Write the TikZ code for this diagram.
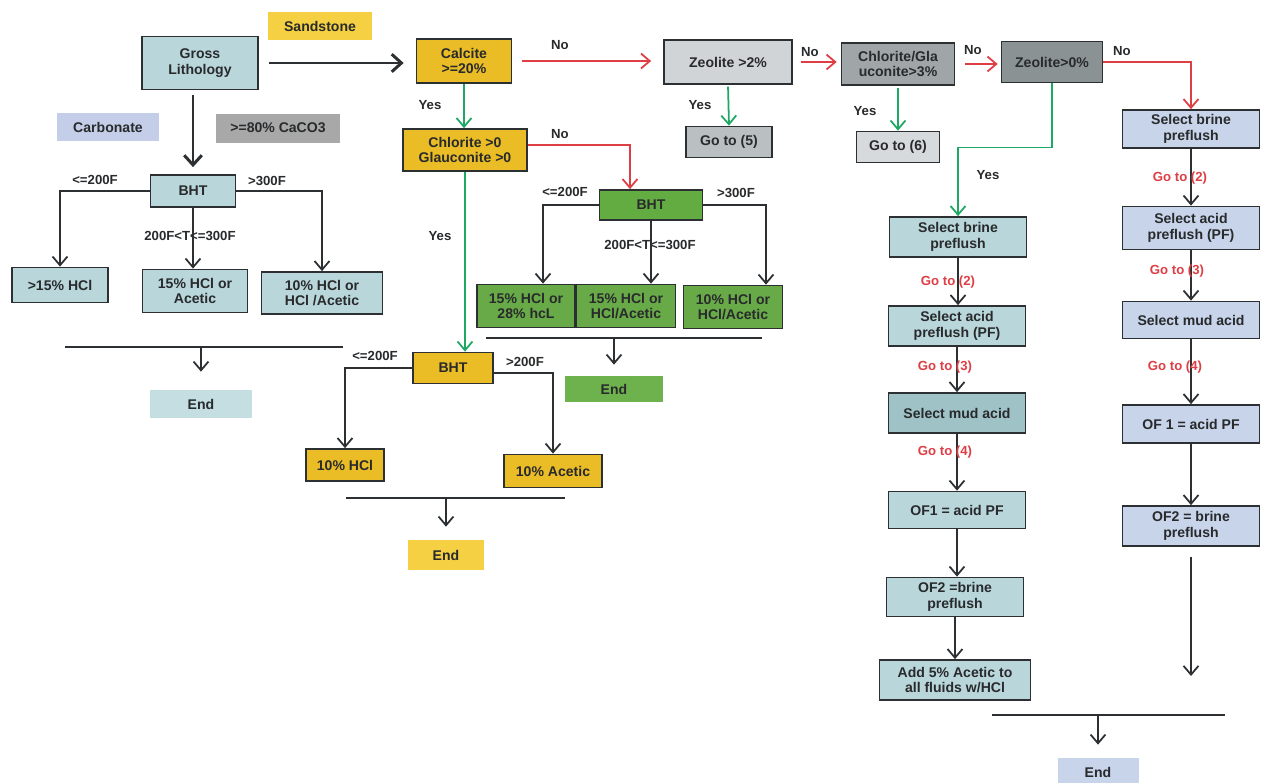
\documentclass[tikz,border=0pt]{standalone}
\usepackage{fontspec}
\setmainfont{Liberation Sans}
\usetikzlibrary{arrows.meta}

\definecolor{inkgrey}{RGB}{45,48,50}
\definecolor{inktext}{RGB}{40,42,44}
\definecolor{tealbox}{RGB}{185,214,218}
\definecolor{tealdark}{RGB}{158,194,198}
\definecolor{tealend}{RGB}{196,222,226}
\definecolor{sandyel}{RGB}{244,208,66}
\definecolor{calcyel}{RGB}{234,188,38}
\definecolor{bhtgrn}{RGB}{98,172,66}
\definecolor{boxgrn}{RGB}{104,170,72}
\definecolor{endgrn}{RGB}{110,178,78}
\definecolor{greyA}{RGB}{208,212,214}
\definecolor{greyB}{RGB}{186,192,194}
\definecolor{greyC}{RGB}{160,166,168}
\definecolor{greyD}{RGB}{138,146,148}
\definecolor{greyE}{RGB}{214,218,220}
\definecolor{lavbox}{RGB}{200,212,234}
\definecolor{carblab}{RGB}{196,206,232}
\definecolor{cacolab}{RGB}{168,168,168}
\definecolor{noRed}{RGB}{222,62,68}
\definecolor{yesGrn}{RGB}{30,168,100}

\newcommand\flowfont{\fontsize{8}{8.8}\selectfont\bfseries}
\newcommand\lblfont{\fontsize{7.5}{8.5}\selectfont\bfseries}

\tikzset{
  box/.style={draw=inkgrey, line width=1pt, align=center, inner sep=1pt, text=inktext, font=\flowfont},
  tag/.style={align=center, inner sep=1pt, text=inktext, font=\flowfont},
  lbl/.style={inner sep=1pt, text=inktext, font=\lblfont},
  golbl/.style={inner sep=1pt, text=noRed, font=\lblfont},
  arr/.style={draw=inkgrey, line width=1pt, -{Straight Barb[length=5pt,width=8.5pt]}},
  bigarr/.style={draw=inkgrey, line width=1.7pt, -{Straight Barb[length=5.5pt,width=10pt]}},
  noarr/.style={arr, draw=noRed},
  yesarr/.style={arr, draw=yesGrn},
  bar/.style={draw=inkgrey, line width=1.1pt},
}

\begin{document}
\begin{tikzpicture}[x=0.02cm, y=-0.02cm]
  \useasboundingbox (0,0) rectangle (1262,782);
  \fill[white] (0,0) rectangle (1262,782);

  % carbonate branch
  \node[box, fill=tealbox, minimum width=2.32cm, minimum height=1.06cm] (gross) at (200,63) {Gross\\Lithology};
  \node[tag, fill=sandyel, minimum width=2.1cm, minimum height=0.56cm] (sand) at (320,26) {Sandstone};
  \node[tag, fill=carblab, minimum width=2.06cm, minimum height=0.56cm] (carb) at (108,127) {Carbonate};
  \node[tag, fill=cacolab, minimum width=2.5cm, minimum height=0.58cm] (caco) at (278,128) {>=80\% CaCO3};
  \node[box, fill=tealbox, minimum width=1.7cm, minimum height=0.64cm] (bhtL) at (193,191) {BHT};
  \node[box, fill=tealbox, minimum width=1.92cm, minimum height=0.7cm] (hclA) at (60,285) {>15\% HCl};
  \node[box, fill=tealbox, minimum width=2.1cm, minimum height=0.86cm] (hclB) at (195,291) {15\% HCl or\\Acetic};
  \node[box, fill=tealbox, minimum width=2.42cm, minimum height=0.84cm] (hclC) at (322,293) {10\% HCl or\\HCl /Acetic};
  \node[tag, fill=tealend, minimum width=2.04cm, minimum height=0.56cm] (endL) at (201,404) {End};

  \node[lbl] (lt1) at (95,180) {<=200F};
  \node[lbl] (gt1) at (267,181) {>300F};
  \node[lbl] (md1) at (190,236) {200F<T<=300F};

  % sandstone: calcite checks
  \node[box, fill=calcyel, minimum width=1.9cm, minimum height=0.88cm] (calc) at (464,61) {Calcite\\>=20\%};
  \node[box, fill=calcyel, minimum width=2.48cm, minimum height=0.84cm] (chl) at (465,150) {Chlorite >0\\Glauconite >0};
  \node[box, fill=bhtgrn, minimum width=2.06cm, minimum height=0.6cm] (bhtG) at (651,205) {BHT};
  \node[box, fill=boxgrn, minimum width=1.96cm, minimum height=0.86cm] (grnA) at (526,306) {15\% HCl or\\28\% hcL};
  \node[box, fill=boxgrn, minimum width=1.98cm, minimum height=0.86cm] (grnB) at (626,306) {15\% HCl or\\HCl/Acetic};
  \node[box, fill=boxgrn, minimum width=1.98cm, minimum height=0.86cm] (grnC) at (733,307) {10\% HCl or\\HCl/Acetic};
  \node[tag, fill=endgrn, minimum width=1.96cm, minimum height=0.52cm] (endG) at (614,389) {End};
  \node[box, fill=calcyel, minimum width=1.6cm, minimum height=0.62cm] (bhtY) at (453,368) {BHT};
  \node[box, fill=calcyel, minimum width=1.56cm, minimum height=0.64cm] (yelA) at (345,465) {10\% HCl};
  \node[box, fill=calcyel, minimum width=1.96cm, minimum height=0.66cm] (yelB) at (553,471) {10\% Acetic};
  \node[tag, fill=sandyel, minimum width=1.52cm, minimum height=0.6cm] (endY) at (446,555) {End};

  \node[lbl] (no1) at (560,45) {No};
  \node[lbl] (yes1) at (430,105) {Yes};
  \node[lbl] (no2) at (560,134) {No};
  \node[lbl] (yes2) at (440,236) {Yes};
  \node[lbl] (lt2) at (565,192) {<=200F};
  \node[lbl] (gt2) at (736,193) {>300F};
  \node[lbl] (md2) at (650,245) {200F<T<=300F};
  \node[lbl] (lt3) at (375,356) {<=200F};
  \node[lbl] (gt3) at (525,362) {>200F};

  % zeolite / chlorite checks
  \node[box, fill=greyA, minimum width=2.56cm, minimum height=0.88cm] (zeo2) at (728,62) {Zeolite >2\%};
  \node[box, fill=greyB, minimum width=1.72cm, minimum height=0.62cm] (goto5) at (729,142) {Go to (5)};
  \node[box, fill=greyC, minimum width=2.26cm, minimum height=0.84cm] (chlg) at (898,64) {Chlorite/Gla\\uconite>3\%};
  \node[box, fill=greyE, minimum width=1.66cm, minimum height=0.62cm] (goto6) at (898,147) {Go to (6)};
  \node[box, fill=greyD, minimum width=2.02cm, minimum height=0.82cm] (zeo0) at (1052,62) {Zeolite>0\%};

  \node[lbl] (yes3) at (700,105) {Yes};
  \node[lbl] (no3) at (810,52) {No};
  \node[lbl] (yes4) at (865,111) {Yes};
  \node[lbl] (no4) at (973,50) {No};
  \node[lbl] (no5) at (1122,51) {No};
  \node[lbl] (yes5) at (988,175) {Yes};

  % zeolite present
  \node[box, fill=tealbox, minimum width=2.74cm, minimum height=0.8cm] (lA) at (958,237) {Select brine\\preflush};
  \node[box, fill=tealbox, minimum width=2.74cm, minimum height=0.8cm] (lB) at (957,326) {Select acid\\preflush (PF)};
  \node[box, fill=tealdark, minimum width=2.74cm, minimum height=0.8cm] (lC) at (957,413) {Select mud acid};
  \node[box, fill=tealbox, minimum width=2.74cm, minimum height=0.74cm] (lD) at (957,510) {OF1 = acid PF};
  \node[box, fill=tealbox, minimum width=2.74cm, minimum height=0.78cm] (lE) at (955,597) {OF2 =brine\\preflush};
  \node[box, fill=tealbox, minimum width=3.02cm, minimum height=0.8cm] (lF) at (955,680) {Add 5\% Acetic to\\all fluids w/HCl};

  % no zeolite
  \node[box, fill=lavbox, minimum width=2.74cm, minimum height=0.76cm] (rA) at (1191,129) {Select brine\\preflush};
  \node[box, fill=lavbox, minimum width=2.74cm, minimum height=0.86cm] (rB) at (1191,228) {Select acid\\preflush (PF)};
  \node[box, fill=lavbox, minimum width=2.74cm, minimum height=0.74cm] (rC) at (1191,320) {Select mud acid};
  \node[box, fill=lavbox, minimum width=2.74cm, minimum height=0.76cm] (rD) at (1191,424) {OF 1 = acid PF};
  \node[box, fill=lavbox, minimum width=2.74cm, minimum height=0.8cm] (rE) at (1191,526) {OF2 = brine\\preflush};
  \node[tag, fill=lavbox, minimum width=1.62cm, minimum height=0.56cm] (endR) at (1098,772) {End};

  % connectors: carbonate
  \draw[bigarr, shorten <=0.2cm, shorten >=0.24cm] (gross.east) -- (gross.east -| calc.west);
  \draw[bigarr, shorten <=0.1cm, shorten >=0.14cm] (bhtL.north |- gross.south) -- (bhtL.north);
  \draw[arr] (bhtL.west) -| (hclA.north);
  \draw[arr] (bhtL.east) -| (hclC.north);
  \draw[arr] (bhtL.south) -- (bhtL.south |- hclB.north);

  \coordinate (barL1) at (65,347);
  \coordinate (barL2) at (343,347);
  \draw[bar] (barL1) -- (barL2);
  \draw[arr, shorten >=0.36cm] (endL.north |- barL1) -- (endL.north);

  % connectors: calcite
  \draw[noarr, shorten <=0.2cm, shorten >=0.24cm] (calc.east) -- (calc.east -| zeo2.west);
  \draw[yesarr] (calc.south) -- (calc.south |- chl.north);
  \draw[noarr] ([yshift=0.1cm]chl.east) -| ([xshift=-0.42cm]bhtG.north);
  \draw[yesarr] (chl.south) -- (chl.south |- bhtY.north);
  \draw[arr] (bhtG.west) -| ([xshift=0.34cm]grnA.north);
  \draw[arr] (bhtG.south) -- ([xshift=0.5cm]grnB.north);
  \draw[arr] (bhtG.east) -| ([xshift=0.66cm]grnC.north);
  \draw[arr] (bhtY.west) -| (yelA.north);
  \draw[arr] ([yshift=-0.1cm]bhtY.east) -| (yelB.north);

  \coordinate (barG1) at (486,338);
  \coordinate (barG2) at (762,338);
  \draw[bar] (barG1) -- (barG2);
  \draw[arr, shorten >=0.22cm] (endG.north |- barG1) -- (endG.north);

  \coordinate (barY1) at (346,498);
  \coordinate (barY2) at (565,498);
  \draw[bar] (barY1) -- (barY2);
  \draw[arr, shorten >=0.26cm] (endY.north |- barY1) -- (endY.north);

  % connectors: zeolite / chlorite
  \draw[yesarr, shorten <=1pt] (zeo2.south) -- (goto5.north);
  \draw[noarr, shorten <=0.16cm, shorten >=0.08cm] (zeo2.east) -- (zeo2.east -| chlg.west);
  \draw[yesarr, shorten <=1pt] (chlg.south) -- (chlg.south |- goto6.north);
  \draw[noarr, shorten <=0.2cm, shorten >=0.06cm] (chlg.east) -- (chlg.east -| zeo0.west);
  \draw[noarr] (zeo0.east) -| (rA.north);
  \draw[yesarr] (zeo0.south) -- ++(0,64) -| (lA.north);

  % treatment columns
  \draw[arr] (lA.south) -- (lA.south |- lB.north);
  \draw[arr] (lB.south) -- (lC.north);
  \draw[arr] (lC.south) -- (lD.north);
  \draw[arr] (lD.south) -- (lD.south |- lE.north);
  \draw[arr] (lE.south) -- (lF.north);

  \draw[arr] (rA.south) -- (rB.north);
  \draw[arr] (rB.south) -- (rC.north);
  \draw[arr] (rC.south) -- (rD.north);
  \draw[arr] (rD.south) -- (rE.north);
  \coordinate (rEnd) at (1191,676);
  \draw[arr, shorten <=0.2cm] (rE.south) -- (rEnd);

  \coordinate (barR1) at (992,715);
  \coordinate (barR2) at (1225,715);
  \draw[bar] (barR1) -- (barR2);
  \draw[arr, shorten >=0.26cm] (endR.north |- barR1) -- (endR.north);

  % step labels on the arrows
  \node[golbl] (lgo2) at (948,282) {Go to (2)};
  \node[golbl] (lgo3) at (945,367) {Go to (3)};
  \node[golbl] (lgo4) at (945,452) {Go to (4)};
  \node[golbl] (rgo2) at (1180,178) {Go to (2)};
  \node[golbl] (rgo3) at (1177,271) {Go to (3)};
  \node[golbl] (rgo4) at (1175,367) {Go to (4)};
\end{tikzpicture}
\end{document}
